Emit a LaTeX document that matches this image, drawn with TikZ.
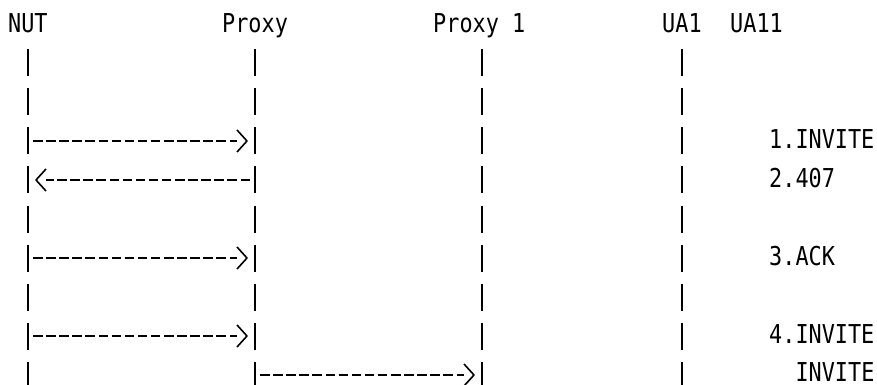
\documentclass[tikz,border=0pt]{standalone}
\usepackage{fontspec}
\usepackage{tikz}
\usetikzlibrary{arrows.meta}
\newfontfamily\gridfont{DejaVu Sans Mono}[FakeStretch=0.84]

% open chevron tip, like a typed '>'
\pgfdeclarearrow{
  name = Chevron,
  parameters = {\the\pgfarrowlength,\the\pgfarrowwidth},
  setup code = {
    \pgfarrowssettipend{0pt}
    \pgfarrowssetlineend{-\pgfarrowlength}
    \pgfarrowssavethe\pgfarrowlength
    \pgfarrowssavethe\pgfarrowwidth
  },
  drawing code = {
    \pgfsetdash{}{0pt}
    \pgfsetroundjoin
    \pgfpathmoveto{\pgfqpoint{-\pgfarrowlength}{.5\pgfarrowwidth}}
    \pgfpathlineto{\pgfqpoint{0pt}{0pt}}
    \pgfpathlineto{\pgfqpoint{-\pgfarrowlength}{-.5\pgfarrowwidth}}
    \pgfusepathqstroke
  },
  defaults = {length=10pt, width=21pt}
}

\begin{document}
\begin{tikzpicture}[
    x=1pt, y=-1pt,
    font=\gridfont\fontsize{26}{26}\selectfont,
    head/.style={anchor=base west, inner sep=0pt},
    msglabel/.style={anchor=west, inner sep=0pt, yshift=2pt},
    lifeline/.style={line width=2pt, dash pattern=on 27pt off 12.1pt},
    msg/.style={line width=1.6pt, dash pattern=on 9.5pt off 3.6pt,
      -{Chevron[length=10pt, width=22pt]}, shorten <=5pt, shorten >=8pt}
  ]
    \useasboundingbox (0,0) rectangle (877,385);

    \node[head] (nuthead) at (8,33) {NUT};
    \node[head] (proxyhead) at (222,33) {Proxy};
    \node[head] (proxyonehead) at (433,33) {Proxy 1};
    \node[head] (uaonehead) at (662,33) {UA1};
    \node[head] (uaelevenhead) at (730,33) {UA11};

    \coordinate (nut) at (28,49.1);
    \coordinate (proxy) at (255,49.1);
    \coordinate (proxyone) at (482,49.1);
    \coordinate (uaone) at (682,49.1);
    \coordinate (lbl) at (769,0);
    \foreach \k in {1,...,9}
      \coordinate (r\k) at (0,{round(23.5+39.1*\k)});

    \foreach \line in {nut,proxy,proxyone,uaone}
      \draw[lifeline] (\line) -- (\line |- 0,395);

    \draw[msg] (nut |- r3) -- (proxy |- r3);
    \draw[msg] (proxy |- r4) -- (nut |- r4);
    \draw[msg] (nut |- r6) -- (proxy |- r6);
    \draw[msg] (nut |- r8) -- (proxy |- r8);
    \draw[msg] (proxy |- r9) -- (proxyone |- r9);

    \node[msglabel] (inviteone) at (lbl |- r3) {1.INVITE};
    \node[msglabel] (authreq) at (lbl |- r4) {2.407};
    \node[msglabel] (ack) at (lbl |- r6) {3.ACK};
    \node[msglabel] (invitetwo) at (lbl |- r8) {4.INVITE};
    \node[msglabel] (invitefwd) at ([xshift=26.3pt, yshift=1pt]lbl |- r9) {INVITE};
  \end{tikzpicture}
\end{document}
